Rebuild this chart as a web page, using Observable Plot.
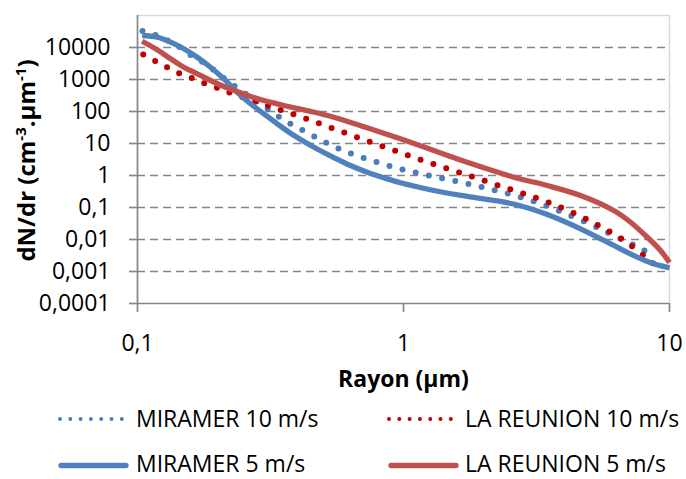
<!DOCTYPE html>
<html>
<head>
<meta charset="utf-8">
<script src="https://cdn.jsdelivr.net/npm/d3@7"></script>
<script src="https://cdn.jsdelivr.net/npm/@observablehq/plot@0.6"></script>
<style>
  body { margin: 0; background: #fff; }
  #wrap { position: relative; width: 686px; height: 479px; font-family: "Open Sans", sans-serif; }
  #wrap svg { display: block; }
</style>
</head>
<body>
<div id="wrap"></div>
<script>
// ---- data ----
const seriesNames = ["MIRAMER 10 m/s", "LA REUNION 10 m/s", "MIRAMER 5 m/s", "LA REUNION 5 m/s"];

const miramer10_r = [0.1044, 0.1179, 0.1323, 0.1472, 0.1627, 0.1801, 0.1982, 0.2185, 0.2403, 0.266, 0.2944, 0.3253, 0.3601, 0.4019, 0.499, 0.623, 0.785, 0.994, 1.263, 1.6, 2.021, 2.562, 3.245, 4.09, 5.09, 5.70, 7.07, 7.94, 8.78];
const miramer10_v = [32800, 23700, 15400, 9110, 4977, 3097, 1691, 885, 512, 280, 154, 88.5, 49.8, 30.9, 11.8, 5.12, 2.68, 1.54, 0.98, 0.65, 0.413, 0.249, 0.136, 0.0636, 0.0288, 0.0182, 0.0078, 0.00477, 0.00316];

const reunion10_r = [0.1051, 0.1169, 0.1304, 0.1451, 0.1627, 0.1828, 0.2039, 0.2289, 0.29, 0.3654, 0.46, 0.58, 0.7303, 0.919, 1.152, 1.46, 1.838, 2.316, 2.917, 3.673, 4.6, 5.71, 7.03, 8.48, 9.31];
const reunion10_v = [6045, 3733, 2321, 1507, 1051, 698, 512, 357, 182, 95.1, 48.7, 24.2, 12.1, 6.18, 3.16, 1.65, 0.885, 0.463, 0.249, 0.124, 0.055, 0.0216, 0.00734, 0.0021, 0.001];

const miramer5_r = [0.1041, 0.1186, 0.1331, 0.1493, 0.1677, 0.1882, 0.2111, 0.2371, 0.266, 0.2985, 0.3351, 0.376, 0.4738, 0.547, 0.632, 0.7303, 0.8433, 0.974, 1.30, 1.736, 2.592, 3.47, 4.63, 6.17, 7.56, 8.73, 10];
const miramer5_v = [23700, 21000, 14650, 9110, 4977, 2423, 1051, 401, 174, 84.8, 41.3, 21.0, 6.73, 3.65, 2.05, 1.27, 0.848, 0.591, 0.34, 0.221, 0.1286, 0.0604, 0.0216, 0.0065, 0.0028, 0.00174, 0.0013];

const reunion5_r = [0.1041, 0.1186, 0.1331, 0.1493, 0.1677, 0.1882, 0.2111, 0.2371, 0.266, 0.2985, 0.3351, 0.376, 0.447, 0.547, 0.7303, 0.974, 1.30, 1.736, 2.598, 3.47, 4.63, 6.17, 7.14, 8.25, 9.25, 10];
const reunion5_v = [15730, 8480, 4436, 2423, 1507, 930, 604, 422, 294, 221, 174, 138, 101, 66.4, 30.9, 14.0, 6.04, 2.6, 0.885, 0.487, 0.237, 0.0806, 0.0347, 0.0118, 0.00453, 0.00191];

const xTicks = [0.1, 1, 10];
const xTickLabels = ["0,1", "1", "10"];
const yTicks = [10000, 1000, 100, 10, 1, 0.1, 0.01, 0.001, 0.0001];
const yTickLabels = ["10000", "1000", "100", "10", "1", "0,1", "0,01", "0,001", "0,0001"];
const gridValues = [10000, 1000, 100, 10, 1, 0.1, 0.01, 0.001];

const xTitle = "Rayon (µm)";

// ---- styles ----
const FONT = '"Open Sans", sans-serif';
const BLUE = "#4F81BD";
const BLUE_DOT = "#4A7EBB";
const RED = "#C0504D";
const RED_DOT = "#C00000";
const AXIS = "#868686";

const rows = (name, r, v) => r.map((x, i) => ({series: name, r: x, v: v[i]}));
const m10 = rows(seriesNames[0], miramer10_r, miramer10_v);
const r10 = rows(seriesNames[1], reunion10_r, reunion10_v);
const m5 = rows(seriesNames[2], miramer5_r, miramer5_v);
const r5 = rows(seriesNames[3], reunion5_r, reunion5_v);

const xFmt = new Map(xTicks.map((d, i) => [d, xTickLabels[i]]));
const yFmt = new Map(yTicks.map((d, i) => [d, yTickLabels[i]]));

const dotted = (color) => ({x: "r", y: "v", stroke: color, strokeWidth: 6, strokeDasharray: "0 13.5", strokeLinecap: "round", curve: "catmull-rom"});
const solid = (color) => ({x: "r", y: "v", stroke: color, strokeWidth: 5.3, strokeLinecap: "butt", curve: "catmull-rom"});

const chart = Plot.plot({
  width: 686,
  height: 400,
  marginTop: 15,
  marginBottom: 97,
  marginLeft: 137,
  marginRight: 17,
  style: {fontFamily: FONT, fontSize: "23px", color: "#000", background: "#fff", overflow: "visible"},
  x: {type: "log", domain: [0.1, 10]},
  y: {type: "log", domain: [0.0001, 100000]},
  marks: [
    Plot.ruleY(gridValues, {stroke: AXIS, strokeWidth: 1.6, strokeDasharray: "8,5"}),
    Plot.ruleY([100000], {stroke: "#d9d9d9", strokeWidth: 1.5}),
    Plot.ruleX([10], {stroke: "#d9d9d9", strokeWidth: 1.5}),
    Plot.line(m10, dotted(BLUE_DOT)),
    Plot.line(r10, dotted(RED_DOT)),
    Plot.line(m5, solid(BLUE)),
    Plot.line(r5, solid(RED)),
    Plot.ruleX([0.1], {stroke: AXIS, strokeWidth: 1.7}),
    Plot.ruleY([0.0001], {stroke: AXIS, strokeWidth: 1.7}),
    Plot.axisY({ticks: yTicks, tickFormat: d => yFmt.get(d), tickSize: 8, tickPadding: 19, stroke: AXIS, strokeWidth: 1.7, fill: "#000", fontSize: 23, label: null}),
    Plot.axisX({ticks: xTicks, tickFormat: d => xFmt.get(d), tickSize: 9, tickPadding: 22, stroke: AXIS, strokeWidth: 1.7, fill: "#000", fontSize: 23, label: null})
  ]
});

const wrap = document.getElementById("wrap");
wrap.appendChild(chart);

// axis titles
const svg = d3.select(chart);
svg.append("text")
  .attr("x", 403.5).attr("y", 386.5)
  .attr("text-anchor", "middle")
  .attr("font-family", FONT).attr("font-size", 23).attr("font-weight", "bold").attr("fill", "#000")
  .text(xTitle);

const yt = svg.append("text")
  .attr("transform", "translate(35,160.5) rotate(-90)")
  .attr("text-anchor", "middle")
  .attr("font-family", FONT).attr("font-size", 24).attr("font-weight", "bold").attr("fill", "#000");
yt.append("tspan").text("dN/dr (cm");
yt.append("tspan").attr("dy", -9).attr("font-size", 15).text("-3");
yt.append("tspan").attr("dy", 9).text(".µm");
yt.append("tspan").attr("dy", -9).attr("font-size", 15).text("-1");
yt.append("tspan").attr("dy", 9).text(")");

// legend below the chart
const leg = d3.select(wrap).append("svg").attr("width", 686).attr("height", 79)
  .attr("font-family", FONT).attr("font-size", 23);
const legendItems = [
  {name: seriesNames[0], color: BLUE_DOT, dot: true, x0: 60, x1: 122, tx: 136, row: 0},
  {name: seriesNames[1], color: RED_DOT, dot: true, x0: 389, x1: 452, tx: 465, row: 0},
  {name: seriesNames[2], color: BLUE, dot: false, x0: 61, x1: 126, tx: 136, row: 1},
  {name: seriesNames[3], color: RED, dot: false, x0: 391, x1: 456, tx: 465, row: 1}
];
const rowY = [19, 65.5];
const rowBase = [26.5, 72];
for (const it of legendItems) {
  leg.append("line")
    .attr("x1", it.x0).attr("x2", it.x1)
    .attr("y1", rowY[it.row]).attr("y2", rowY[it.row])
    .attr("stroke", it.color)
    .attr("stroke-width", it.dot ? 4 : 5.3)
    .attr("stroke-linecap", "round")
    .attr("stroke-dasharray", it.dot ? "0 10.3" : null);
  leg.append("text").attr("x", it.tx).attr("y", rowBase[it.row]).attr("fill", "#000").text(it.name);
}
</script>
</body>
</html>
